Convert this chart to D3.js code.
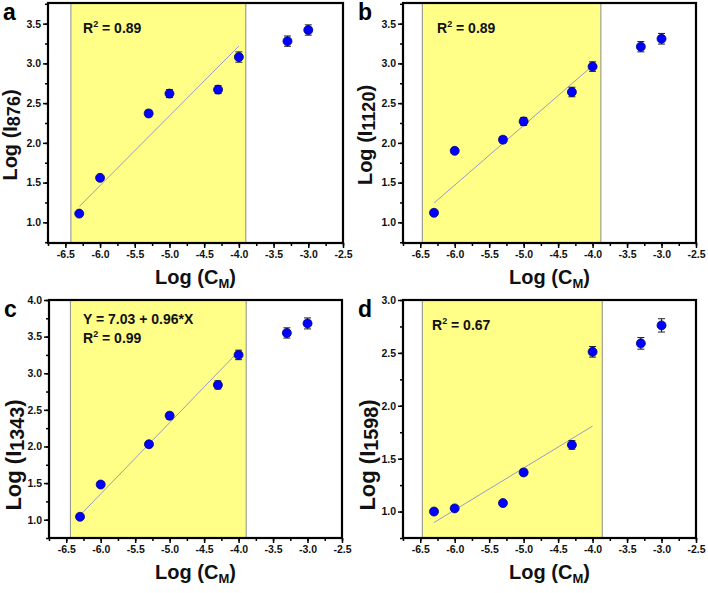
<!DOCTYPE html>
<html>
<head>
<meta charset="utf-8">
<script src="https://cdn.jsdelivr.net/npm/d3@7"></script>
<style>
  body { margin: 0; background: #fff; }
  svg { display: block; font-family: Arial, "Liberation Sans", sans-serif; font-weight: bold; }
</style>
</head>
<body>
<div id="chart"></div>
<script>
var w = 708, h = 593;

// shared x values (log of concentration)
var logC = [-6.3, -6.0, -5.3, -5.0, -4.3, -4.0, -3.3, -3.0];
var xTicks = [-6.5, -6.0, -5.5, -5.0, -4.5, -4.0, -3.5, -3.0, -2.5];

// panel a: I876
var yA = [1.11, 1.56, 2.37, 2.62, 2.67, 3.08, 3.28, 3.42];
var errA = [0.02, 0.02, 0.04, 0.05, 0.05, 0.065, 0.065, 0.065];
var fitA = [6.73, 0.878];
var bandA = [-6.42, -3.90];
var yTicksA = [1.0, 1.5, 2.0, 2.5, 3.0, 3.5];

// panel b: I1120
var yB = [1.12, 1.90, 2.04, 2.27, 2.64, 2.96, 3.21, 3.31];
var errB = [0.02, 0.03, 0.04, 0.05, 0.06, 0.06, 0.065, 0.067];
var fitB = [5.974, 0.751];
var bandB = [-6.47, -3.88];
var yTicksB = [1.0, 1.5, 2.0, 2.5, 3.0, 3.5];

// panel c: I1343
var yC = [1.04, 1.48, 2.03, 2.42, 2.84, 3.25, 3.55, 3.68];
var errC = [0.02, 0.02, 0.03, 0.045, 0.055, 0.065, 0.07, 0.075];
var fitC = [7.19, 0.973];
var bandC = [-6.44, -3.89];
var yTicksC = [1.0, 1.5, 2.0, 2.5, 3.0, 3.5, 4.0];

// panel d: I1598
var yD = [1.00, 1.03, 1.08, 1.37, 1.63, 2.51, 2.59, 2.76];
var errD = [0.015, 0.02, 0.02, 0.03, 0.04, 0.05, 0.055, 0.063];
var fitD = [3.394, 0.3965];
var bandD = [-6.47, -3.86];
var yTicksD = [1.0, 1.5, 2.0, 2.5, 3.0];

var svg = d3.select("#chart")
  .append("svg")
  .attr("width", w)
  .attr("height", h);

var panels = [
  {letter: "a", sub: "876", ys: yA, err: errA, fit: fitA, band: bandA, yt: yTicksA, ydom: [0.74, 3.76],
   left: 48, top: 3, pw: 295, ph: 240, notes: ["R|2| = 0.89"], noteY: 33, noteX: 83, ytSize: 20},
  {letter: "b", sub: "1120", ys: yB, err: errB, fit: fitB, band: bandB, yt: yTicksB, ydom: [0.74, 3.76],
   left: 403, top: 3, pw: 293, ph: 240, notes: ["R|2| = 0.89"], noteY: 33, noteX: 437, ytSize: 20},
  {letter: "c", sub: "1343", ys: yC, err: errC, fit: fitC, band: bandC, yt: yTicksC, ydom: [0.75, 4.0],
   left: 49, top: 300, pw: 293, ph: 238, notes: ["Y = 7.03 + 0.96*X", "R|2| = 0.99"], noteY: 324, noteX: 83, ytSize: 22},
  {letter: "d", sub: "1598", ys: yD, err: errD, fit: fitD, band: bandD, yt: yTicksD, ydom: [0.75, 3.0],
   left: 403, top: 300, pw: 293, ph: 238, notes: ["R|2| = 0.67"], noteY: 330, noteX: 432, ytSize: 22}
];

panels.forEach(function(p) {
  var x = d3.scaleLinear().domain([-6.75, -2.5]).range([p.left, p.left + p.pw]);
  var y = d3.scaleLinear().domain(p.ydom).range([p.top + p.ph, p.top]);
  var g = svg.append("g");

  // highlighted linear range
  g.append("rect")
    .attr("x", x(p.band[0]))
    .attr("y", p.top)
    .attr("width", x(p.band[1]) - x(p.band[0]))
    .attr("height", p.ph)
    .attr("fill", "#ffff88")
    .attr("stroke", "#8c8c8c")
    .attr("stroke-width", 1);

  // axes
  var fmt = function(d) { return d.toFixed(1); };
  var xMinor = d3.range(-6.75, -2.4, 0.25);
  g.append("g")
    .attr("transform", "translate(0," + (p.top + p.ph) + ")")
    .call(d3.axisBottom(x).tickValues(xMinor).tickSize(3).tickFormat(""))
    .call(function(a) { a.select(".domain").remove(); });
  g.append("g")
    .attr("class", "xaxis")
    .attr("transform", "translate(0," + (p.top + p.ph) + ")")
    .call(d3.axisBottom(x).tickValues(xTicks).tickSize(5).tickPadding(3).tickFormat(fmt))
    .call(function(a) { a.select(".domain").remove(); });

  var yMinor = d3.range(0.75, p.ydom[1] + 0.01, 0.25).filter(function(v) { return v >= p.ydom[0] - 0.01; });
  g.append("g")
    .attr("transform", "translate(" + p.left + ",0)")
    .call(d3.axisLeft(y).tickValues(yMinor).tickSize(3).tickFormat(""))
    .call(function(a) { a.select(".domain").remove(); });
  g.append("g")
    .attr("class", "yaxis")
    .attr("transform", "translate(" + p.left + ",0)")
    .call(d3.axisLeft(y).tickValues(p.yt).tickSize(5).tickPadding(2).tickFormat(fmt))
    .call(function(a) { a.select(".domain").remove(); });

  g.selectAll(".tick line").attr("stroke", "#000").attr("stroke-width", 1.5);
  g.selectAll(".tick text").attr("font-size", 10.5).attr("font-weight", "bold").attr("fill", "#111")
    .attr("font-family", "Arial, 'Liberation Sans', sans-serif");

  // frame
  g.append("rect")
    .attr("x", p.left).attr("y", p.top)
    .attr("width", p.pw).attr("height", p.ph)
    .attr("fill", "none").attr("stroke", "#000").attr("stroke-width", 2.2);

  // fit line over the linear range
  var fitX = [logC[0], logC[5]];
  g.append("line")
    .attr("x1", x(fitX[0])).attr("y1", y(p.fit[0] + p.fit[1] * fitX[0]))
    .attr("x2", x(fitX[1])).attr("y2", y(p.fit[0] + p.fit[1] * fitX[1]))
    .attr("stroke", "#9a9ac4").attr("stroke-width", 1);

  // error bars
  var pts = logC.map(function(c, i) { return {x: c, y: p.ys[i], e: p.err[i]}; });
  var eb = g.selectAll(".eb").data(pts).enter().append("g").attr("class", "eb")
    .attr("stroke", "#222").attr("stroke-width", 1);
  eb.append("line")
    .attr("x1", function(d) { return x(d.x); }).attr("x2", function(d) { return x(d.x); })
    .attr("y1", function(d) { return y(d.y - d.e); }).attr("y2", function(d) { return y(d.y + d.e); });
  eb.append("line")
    .attr("x1", function(d) { return x(d.x) - 3.5; }).attr("x2", function(d) { return x(d.x) + 3.5; })
    .attr("y1", function(d) { return y(d.y + d.e); }).attr("y2", function(d) { return y(d.y + d.e); });
  eb.append("line")
    .attr("x1", function(d) { return x(d.x) - 3.5; }).attr("x2", function(d) { return x(d.x) + 3.5; })
    .attr("y1", function(d) { return y(d.y - d.e); }).attr("y2", function(d) { return y(d.y - d.e); });

  // points
  g.selectAll("circle").data(pts).enter().append("circle")
    .attr("cx", function(d) { return x(d.x); })
    .attr("cy", function(d) { return y(d.y); })
    .attr("r", 4.5)
    .attr("fill", "#0000ff")
    .attr("stroke", "#00007a")
    .attr("stroke-width", 0.8);

  // annotations
  p.notes.forEach(function(n, i) {
    var parts = n.split("|");
    var t = g.append("text")
      .attr("x", p.noteX).attr("y", p.noteY + i * 19)
      .attr("font-size", 14).attr("fill", "#111");
    t.append("tspan").text(parts[0]);
    if (parts.length > 1) {
      t.append("tspan").attr("dy", -6).attr("font-size", 9).text(parts[1]);
      t.append("tspan").attr("dy", 6).text(parts[2]);
    }
  });

  // panel letter
  g.append("text")
    .attr("x", p.left - 45).attr("y", p.top + 17)
    .attr("font-size", 23).attr("fill", "#000")
    .text(p.letter);

  // x title
  var xt = g.append("text")
    .attr("x", p.left + p.pw / 2).attr("y", p.top + p.ph + 41)
    .attr("text-anchor", "middle").attr("font-size", 20).attr("fill", "#111");
  xt.append("tspan").text("Log (C");
  xt.append("tspan").attr("dy", 4).attr("font-size", 13).text("M");
  xt.append("tspan").attr("dy", -4).text(")");

  // y title
  var big = p.ytSize > 21;
  var ycx = p.left - (big ? 28 : 31), ycy = p.top + p.ph / 2 + (big ? 36 : 12);
  var yt = g.append("text")
    .attr("transform", "translate(" + ycx + "," + ycy + ") rotate(-90)")
    .attr("text-anchor", "middle").attr("font-size", p.ytSize).attr("fill", "#111");
  yt.append("tspan").text("Log (I");
  yt.append("tspan").attr("dy", 3).attr("font-size", p.ytSize * 0.9).text(p.sub);
  yt.append("tspan").attr("dy", -3).text(")");
});
</script>
</body>
</html>
